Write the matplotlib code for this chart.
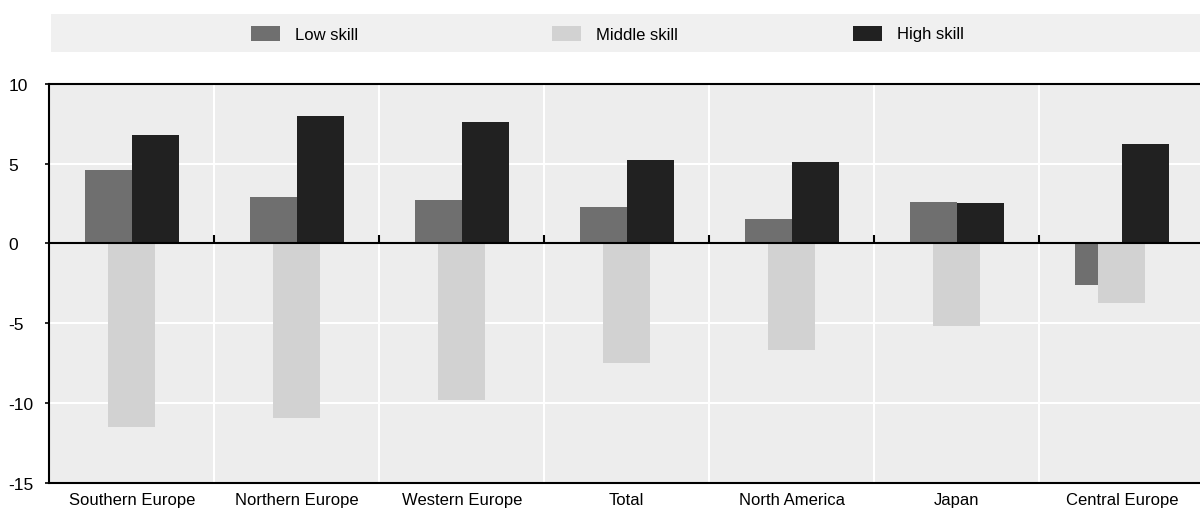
import matplotlib.pyplot as plt
from matplotlib.patches import Rectangle
import numpy as np

# data
regions = ['Southern Europe', 'Northern Europe', 'Western Europe', 'Total',
           'North America', 'Japan', 'Central Europe']
low_skill = [4.6, 2.9, 2.7, 2.3, 1.5, 2.6, -2.6]
middle_skill = [-11.5, -10.9, -9.8, -7.5, -6.7, -5.2, -3.7]
high_skill = [6.8, 8.0, 7.6, 5.2, 5.1, 2.5, 6.2]
series_names = ['Low skill', 'Middle skill', 'High skill']
yticks = [-15, -10, -5, 0, 5, 10]

colors = ['#6f6f6f', '#d2d2d2', '#212121']

plt.rcParams['font.family'] = ['Liberation Sans', 'DejaVu Sans']

W, H = 1200, 510
fig = plt.figure(figsize=(W / 100, H / 100), dpi=100)
ax = fig.add_axes([49.3 / W, 26 / H, 1155 / W, 399.3 / H])
ax.set_facecolor('#ededed')

x = np.arange(len(regions))
bw = 0.285
ax.bar(x - bw / 2, low_skill, bw, color=colors[0], zorder=3)
ax.bar(x, middle_skill, bw, color=colors[1], zorder=3)
ax.bar(x + bw / 2, high_skill, bw, color=colors[2], zorder=3)

ax.set_xlim(-0.5, len(regions) - 0.5)
ax.set_ylim(-15, 10)
ax.set_yticks(yticks)
ax.set_yticklabels([str(v) for v in yticks])
ax.set_xticks(x)
ax.set_xticklabels(regions)

# grid
bounds = np.arange(0.5, len(regions) - 0.5)
for b in bounds:
    ax.axvline(b, color='white', lw=1.5, zorder=1)
for v in yticks:
    ax.axhline(v, color='white', lw=1.5, zorder=1)
ax.axhline(0, color='black', lw=1.5, zorder=4)
ax.plot(bounds, np.zeros(len(bounds)), ls='', marker=2, ms=6, mew=1.5,
        color='black', zorder=5)

for s in ['top', 'bottom', 'left']:
    ax.spines[s].set_linewidth(1.5)
    ax.spines[s].set_color('black')
ax.spines['right'].set_visible(False)
ax.tick_params(axis='x', length=0, labelsize=12, pad=6.5)
ax.tick_params(axis='y', length=3, width=1.2, labelsize=12.5, pad=0)
for lab in ax.get_yticklabels():
    lab.set_horizontalalignment('left')
    lab.set_x((12.5 - 49.3) / 1155)

# legend band
fig.patches.append(Rectangle((51 / W, 1 - 53 / H), 1.0, 38 / H,
                             transform=fig.transFigure, facecolor='#f0f0f0',
                             edgecolor='none'))
for i, name in enumerate(series_names):
    px = 251 + 301 * i
    fig.patches.append(Rectangle((px / W, 1 - 42 / H), 29 / W, 15 / H,
                                 transform=fig.transFigure, facecolor=colors[i],
                                 edgecolor='none'))
    fig.text((px + 44) / W, 1 - 35 / H, name, fontsize=12, va='center', ha='left')

fig.savefig('out.png', dpi=100)
